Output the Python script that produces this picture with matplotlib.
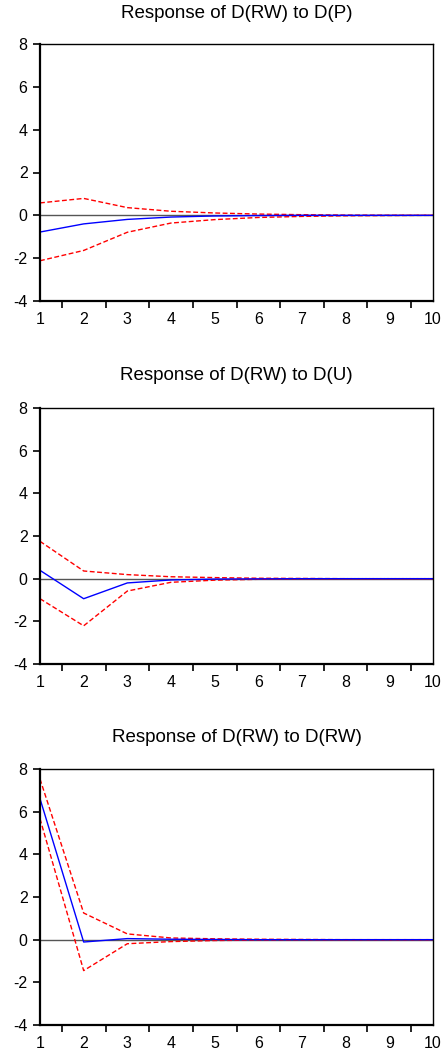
import numpy as np
import matplotlib.pyplot as plt
from matplotlib.ticker import FixedLocator

plt.rcParams['font.family'] = ['Liberation Sans', 'DejaVu Sans']
plt.rcParams['axes.unicode_minus'] = False

periods = [1, 2, 3, 4, 5, 6, 7, 8, 9, 10]

titles = ["Response of D(RW) to D(P)",
          "Response of D(RW) to D(U)",
          "Response of D(RW) to D(RW)"]

# point estimates
resp_p = [-0.78, -0.40, -0.19, -0.08, -0.03, -0.01, 0.0, 0.0, 0.0, 0.0]
resp_u = [0.39, -0.94, -0.20, -0.06, -0.02, -0.01, 0.0, 0.0, 0.0, 0.0]
resp_rw = [6.61, -0.11, 0.05, 0.02, 0.01, 0.0, 0.0, 0.0, 0.0, 0.0]

# +/- 2 S.E. bands
upper_p = [0.58, 0.79, 0.36, 0.19, 0.11, 0.06, 0.03, 0.01, 0.005, 0.0]
lower_p = [-2.12, -1.64, -0.79, -0.36, -0.20, -0.10, -0.05, -0.02, -0.01, 0.0]
upper_u = [1.75, 0.36, 0.19, 0.09, 0.05, 0.02, 0.01, 0.0, 0.0, 0.0]
lower_u = [-0.94, -2.21, -0.58, -0.17, -0.07, -0.03, -0.01, 0.0, 0.0, 0.0]
upper_rw = [7.53, 1.25, 0.27, 0.08, 0.04, 0.02, 0.01, 0.0, 0.0, 0.0]
lower_rw = [5.67, -1.45, -0.19, -0.09, -0.04, -0.02, -0.01, 0.0, 0.0, 0.0]

panels = [(resp_p, upper_p, lower_p),
          (resp_u, upper_u, lower_u),
          (resp_rw, upper_rw, lower_rw)]

W, H = 442, 1059
fig = plt.figure(figsize=(W / 100, H / 100), dpi=100)

# (top px, bottom px, title center px)
boxes = [(44, 301, 13), (408, 664, 376), (769, 1025, 737)]
left, right = 40, 433

for (top, bot, ty), title, (resp, up, lo) in zip(boxes, titles, panels):
    ax = fig.add_axes([left / W, 1 - bot / H, (right - left) / W, (bot - top) / H])
    ax.axhline(0, color='#555555', lw=1.0)
    ax.plot(periods, up, color='red', ls=(0, (3.5, 1.8)), lw=1.0)
    ax.plot(periods, lo, color='red', ls=(0, (3.5, 1.8)), lw=1.0)
    ax.plot(periods, resp, color='blue', lw=1.0)
    ax.set_xlim(1, 10)
    ax.set_ylim(-4, 8)
    ax.set_yticks([-4, -2, 0, 2, 4, 6, 8])
    ax.set_xticks(periods)
    ax.xaxis.set_minor_locator(FixedLocator(np.arange(1.5, 10, 1)))
    ax.tick_params(axis='x', which='major', length=0, pad=8, labelsize=11.5)
    ax.tick_params(axis='x', which='minor', length=5, width=1.2, direction='out')
    ax.tick_params(axis='y', length=5, width=1.2, pad=4, labelsize=11.5)
    for s in ['left', 'bottom']:
        ax.spines[s].set_linewidth(1.6)
    for s in ['top', 'right']:
        ax.spines[s].set_linewidth(1.0)
    for lbl in ax.get_xticklabels():
        lbl.set_clip_on(False)
    fig.text((left + right) / 2 / W, 1 - ty / H, title, ha='center', va='center',
             fontsize=13.5)

fig.savefig("out.png", dpi=100)
